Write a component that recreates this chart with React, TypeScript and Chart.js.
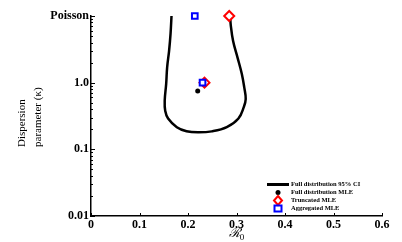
import React, { useEffect, useRef } from "react";
import { Chart, registerables } from "chart.js";

Chart.register(...registerables);

// 95% confidence contour of the full distribution (R0, kappa)
const contourR = [0.166, 0.164, 0.161, 0.157, 0.155, 0.152, 0.153, 0.159, 0.177, 0.197, 0.221, 0.249, 0.28, 0.304, 0.315, 0.319, 0.316, 0.311, 0.302, 0.293, 0.288, 0.287];
const contourK = [10, 5.4, 3.0, 1.7, 0.96, 0.54, 0.38, 0.29, 0.215, 0.187, 0.18, 0.186, 0.215, 0.29, 0.43, 0.57, 0.85, 1.35, 2.4, 4.2, 7.5, 10];

const fullMleR = [0.22];
const fullMleK = [0.75];

const truncR = [0.285, 0.234];
const truncK = [10, 1.0];

const aggR = [0.214, 0.23];
const aggK = [10, 1.0];

const xTicks = [0, 0.1, 0.2, 0.3, 0.4, 0.5, 0.6];
const yTicks = [0.01, 0.1, 1, 10];
const yTickLabels = ["0.01", "0.1", "1.0", "Poisson"];

const legendLabels = ["Full distribution 95% CI", "Full distribution MLE", "Truncated MLE", "Aggregated MLE"];

const SERIF = "'Liberation Serif', 'DejaVu Serif', serif";

const pts = (xs: number[], ys: number[]) => xs.map((x, i) => ({ x, y: ys[i] }));

const decorPlugin = {
  id: "decor",
  afterDraw(chart: any) {
    const { ctx, chartArea, scales } = chart;
    const xs = scales.x;
    const ys = scales.y;
    ctx.save();
    // inward ticks
    ctx.strokeStyle = "#000";
    ctx.lineWidth = 1;
    ctx.beginPath();
    xTicks.forEach((v) => {
      const px = Math.round(xs.getPixelForValue(v)) + 0.5;
      ctx.moveTo(px, chartArea.bottom);
      ctx.lineTo(px, chartArea.bottom - 3);
    });
    for (let d = 0.01; d < 10; d *= 10) {
      for (let m = 1; m <= 10; m++) {
        const v = d * m;
        const py = Math.round(ys.getPixelForValue(v)) + 0.5;
        const len = m === 1 || m === 10 ? 4 : 2;
        ctx.moveTo(chartArea.left, py);
        ctx.lineTo(chartArea.left + len, py);
      }
    }
    ctx.stroke();

    // y title
    ctx.fillStyle = "#000";
    ctx.font = `11px ${SERIF}`;
    ctx.textAlign = "left";
    ctx.textBaseline = "alphabetic";
    const lines = ["Dispersion", "parameter (\u03ba)"];
    const bx = [25, 41];
    lines.forEach((t, i) => {
      ctx.save();
      ctx.translate(bx[i], 147);
      ctx.rotate(-Math.PI / 2);
      ctx.fillText(t, 0, 0);
      ctx.restore();
    });

    // x title
    const cx = (chartArea.left + chartArea.right) / 2;
    ctx.font = `italic 13px ${SERIF}`;
    const wR = ctx.measureText("\u211b").width;
    ctx.font = `9px ${SERIF}`;
    const w0 = ctx.measureText("0").width;
    const startX = cx - (wR + w0) / 2;
    ctx.font = `italic 13px ${SERIF}`;
    ctx.fillText("\u211b", startX, 237);
    ctx.font = `9px ${SERIF}`;
    ctx.fillText("0", startX + wR, 240);

    // legend
    const lx = 278;
    const rowY = [184.5, 192.5, 200.5, 208.5];
    ctx.font = `bold 6.5px ${SERIF}`;
    ctx.textBaseline = "middle";
    legendLabels.forEach((t, i) => ctx.fillText(t, 291, rowY[i]));
    // line sample
    ctx.lineWidth = 3;
    ctx.beginPath();
    ctx.moveTo(267, rowY[0]);
    ctx.lineTo(289, rowY[0]);
    ctx.stroke();
    // dot
    ctx.beginPath();
    ctx.arc(lx, rowY[1], 2.5, 0, Math.PI * 2);
    ctx.fill();
    // diamond
    ctx.strokeStyle = "#ff0000";
    ctx.lineWidth = 2;
    ctx.beginPath();
    ctx.moveTo(lx, rowY[2] - 4.5);
    ctx.lineTo(lx + 4, rowY[2]);
    ctx.lineTo(lx, rowY[2] + 4.5);
    ctx.lineTo(lx - 4, rowY[2]);
    ctx.closePath();
    ctx.stroke();
    // square
    ctx.strokeStyle = "#0000ff";
    ctx.strokeRect(lx - 3.5, rowY[3] - 3, 7, 6);
    ctx.restore();
  },
};

export default function App() {
  const ref = useRef<HTMLCanvasElement>(null);
  useEffect(() => {
    if (!ref.current) return;
    const chart = new Chart(ref.current, {
      type: "scatter",
      data: {
        datasets: [
          {
            label: legendLabels[3],
            data: pts(aggR, aggK),
            pointStyle: "rect",
            pointRadius: 4,
            pointBorderWidth: 2,
            borderColor: "#0000ff",
            backgroundColor: "#ffffff",
            clip: false,
            order: 0,
          } as any,
          {
            label: legendLabels[2],
            data: pts(truncR, truncK),
            pointStyle: "rectRot",
            pointRadius: 5,
            pointBorderWidth: 2,
            borderColor: "#ff0000",
            backgroundColor: "#ffffff",
            clip: false,
            order: 1,
          },
          {
            label: legendLabels[1],
            data: pts(fullMleR, fullMleK),
            pointStyle: "circle",
            pointRadius: 2.5,
            borderWidth: 0,
            backgroundColor: "#000",
            borderColor: "#000",
            clip: false,
            order: 2,
          },
          {
            label: legendLabels[0],
            data: pts(contourR, contourK),
            showLine: true,
            borderColor: "#000",
            borderWidth: 2.5,
            pointRadius: 0,
            tension: 0.4,
            clip: false,
            order: 3,
          } as any,
        ],
      },
      options: {
        animation: false,
        responsive: true,
        maintainAspectRatio: false,
        layout: { padding: { top: 16, right: 20, left: 0, bottom: 0 } },
        plugins: { legend: { display: false }, tooltip: { enabled: false } },
        scales: {
          x: {
            type: "linear",
            min: 0,
            max: 0.6,
            grid: { display: false, drawTicks: false },
            border: { display: true, color: "#000", width: 1.5 },
            afterFit: (s: any) => {
              s.height = 26;
            },
            afterBuildTicks: (s: any) => {
              s.ticks = xTicks.map((v) => ({ value: v }));
            },
            ticks: {
              padding: 2,
              color: "#000",
              font: { family: SERIF, size: 12, weight: "bold" },
              maxRotation: 0,
              callback: (v: any) => (v === 0 ? "0" : Number(v).toFixed(1)),
            },
          },
          y: {
            type: "logarithmic",
            min: 0.01,
            max: 10,
            grid: { display: false, drawTicks: false },
            border: { display: true, color: "#000", width: 1.5 },
            afterFit: (s: any) => {
              s.width = 91;
            },
            afterBuildTicks: (s: any) => {
              s.ticks = yTicks.map((v) => ({ value: v }));
            },
            ticks: {
              padding: 2,
              color: "#000",
              font: { family: SERIF, size: 12, weight: "bold" },
              callback: (v: any) => {
                const i = yTicks.findIndex((t) => Math.abs(t - v) / t < 1e-6);
                return i >= 0 ? yTickLabels[i] : "";
              },
            },
          },
        },
      },
      plugins: [decorPlugin],
    });
    return () => chart.destroy();
  }, []);
  return (
    <div style={{ position: "fixed", left: 0, top: 0, width: 402, height: 242, background: "#fff" }}>
      <canvas ref={ref} />
    </div>
  );
}
